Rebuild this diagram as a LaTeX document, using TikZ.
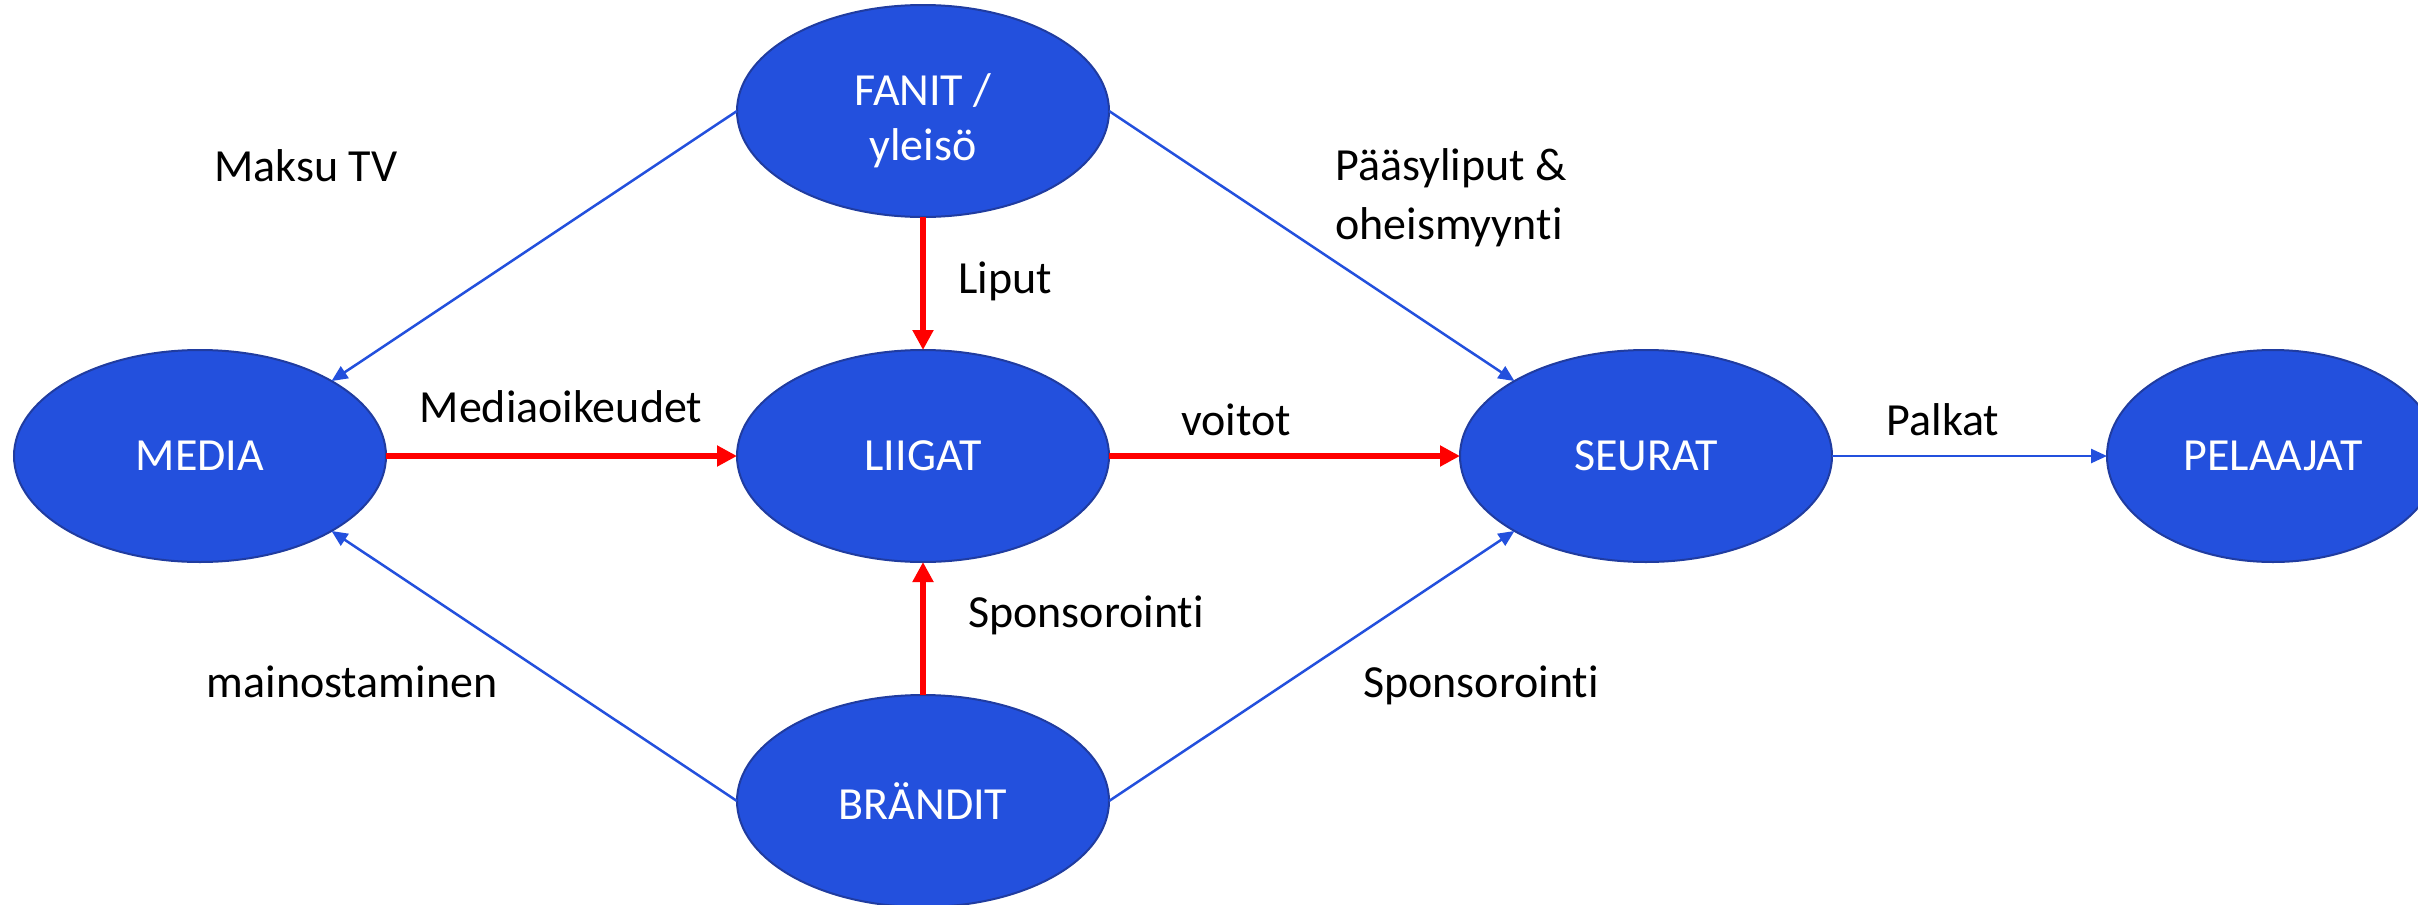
\documentclass[tikz,border=0pt]{standalone}
\usepackage{fontspec}
\setmainfont{Carlito}[Ligatures=NoCommon]
\usetikzlibrary{shapes.geometric,arrows.meta}
\definecolor{nodeblue}{RGB}{35,80,221}
\definecolor{nodeborder}{RGB}{32,60,160}
\definecolor{linkblue}{RGB}{35,80,221}
\begin{document}
\begin{tikzpicture}[x=1pt,y=-1pt,
  actor/.style={ellipse, fill=nodeblue, draw=nodeborder, line width=2pt,
    minimum width=372pt, minimum height=212pt, inner sep=0pt, outer sep=0pt,
    text=white, font=\fontsize{46}{55}\selectfont, align=center},
  money/.style={draw=red, line width=6pt, -{Triangle[length=20pt,width=20pt]}},
  flow/.style={draw=linkblue, line width=2.5pt, -{Triangle[length=16pt,width=14pt]}},
  lbl/.style={font=\fontsize{46}{59}\selectfont, inner sep=0pt, align=left}]
\useasboundingbox (0,0) rectangle (2418,905);
\node[actor] (fanit) at (923,111) {\rule{0pt}{52pt}FANIT /\\yleisö};
\node[actor] (media) at (200,456) {MEDIA};
\node[actor] (liigat) at (923,456) {LIIGAT};
\node[actor] (seurat) at (1646,456) {SEURAT};
\node[actor, minimum width=332pt] (pelaajat) at (2273,456) {PELAAJAT};
\node[actor] (brandit) at (923,801) {BRÄNDIT};

\draw[money] (media.east) -- (liigat.west);
\draw[money] (liigat.east) -- (seurat.west);
\draw[money] (fanit.south) -- (liigat.north);
\draw[money] (brandit.north) -- (liigat.south);

\draw[flow] (fanit.west) -- (media.north east);
\draw[flow] (fanit.east) -- (seurat.north west);
\draw[flow] (brandit.west) -- (media.south east);
\draw[flow] (brandit.east) -- (seurat.south west);
\draw[flow] (seurat.east) -- (pelaajat.west);

\node[lbl, anchor=base] (maksu) at (306,181) {Maksu TV};
\node[lbl, anchor=base west] (liput) at (958,293) {Liput};
\node[lbl, anchor=base west] (paasy) at (1335,239) {Pääsyliput \&\\oheismyynti};
\node[lbl, anchor=base] (mediaoik) at (561,422) {Mediaoikeudet};
\node[lbl, anchor=base] (voitot) at (1236,435) {voitot};
\node[lbl, anchor=base] (palkat) at (1943,435) {Palkat};
\node[lbl, anchor=base west] (spons1) at (968,627) {Sponsorointi};
\node[lbl, anchor=base] (mainos) at (352,697) {mainostaminen};
\node[lbl, anchor=base west] (spons2) at (1363,697) {Sponsorointi};
\end{tikzpicture}
\end{document}
